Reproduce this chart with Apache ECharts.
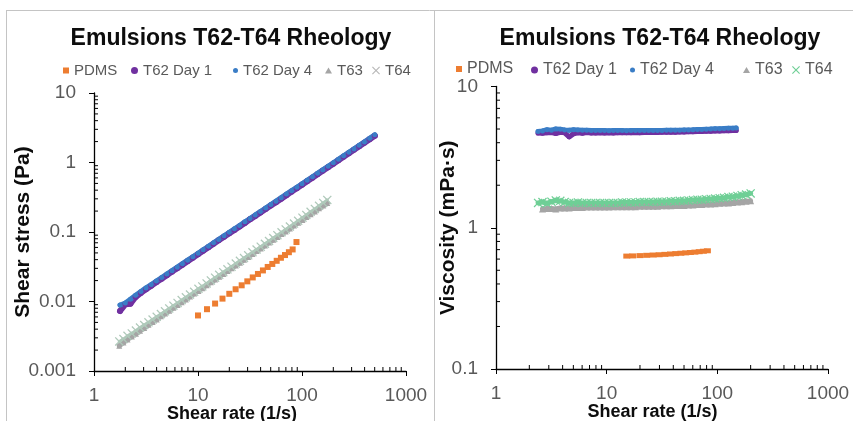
<!DOCTYPE html>
<html><head><meta charset="utf-8">
<script src="https://cdn.jsdelivr.net/npm/echarts@6/dist/echarts.min.js"></script>
<style>html,body{margin:0;padding:0;background:#fff}#c{width:853px;height:421px}</style>
</head><body><div id="c"></div>
<script>
// ---------- data: left chart (shear stress vs shear rate) ----------
const ratePdmsL = [10.0,12.2,14.6,17.2,20.0,23.0,26.3,29.8,33.6,37.7,42.1,46.8,51.8,57.1,62.7,68.6,74.8,81.3,88.5];
const stressPdmsL = [0.0063,0.00775,0.00934,0.0110,0.0129,0.0150,0.0171,0.0195,0.0222,0.0249,0.0280,0.0314,0.0347,0.0385,0.0426,0.0466,0.0512,0.0561,0.0717];
const rateT62L = [1.78,2.00,2.24,2.51,2.82,3.16,3.55,3.98,4.47,5.01,5.62,6.31,7.08,7.94,8.91,10.0,11.2,12.6,14.1,15.8,17.8,20.0,22.4,25.1,28.2,31.6,35.5,39.8,44.7,50.1,56.2,63.1,70.8,79.4,89.1,100,112,126,141,158,178,200,224,251,282,316,355,398,447,501];
const stressDay1L = [0.0073,0.0091,0.0093,0.0116,0.0133,0.0150,0.0169,0.0190,0.0213,0.0239,0.0269,0.0302,0.0339,0.0380,0.0427,0.0479,0.0537,0.0603,0.0676,0.0758,0.0853,0.0958,0.107,0.120,0.135,0.152,0.170,0.191,0.214,0.240,0.269,0.302,0.339,0.381,0.427,0.480,0.538,0.604,0.677,0.759,0.855,0.961,1.08,1.21,1.36,1.52,1.71,1.92,2.16,2.42];
const stressDay4L = [0.0089,0.0095,0.0108,0.0123,0.0139,0.0157,0.0175,0.0197,0.0221,0.0248,0.0278,0.0312,0.0350,0.0393,0.0441,0.0495,0.0555,0.0623,0.0698,0.0782,0.0881,0.0990,0.111,0.124,0.140,0.156,0.176,0.197,0.221,0.248,0.278,0.312,0.351,0.393,0.441,0.495,0.555,0.624,0.698,0.783,0.882,0.991,1.11,1.25,1.40,1.57,1.77,1.98,2.23,2.50];
const rateT6xL = [1.75,1.92,2.10,2.31,2.53,2.77,3.04,3.34,3.66,4.01,4.40,4.82,5.29,5.80,6.36,6.97,7.65,8.38,9.19,10.1,11.0,12.1,13.3,14.6,16.0,17.5,19.2,21.0,23.1,25.3,27.7,30.4,33.4,36.6,40.1,44.0,48.2,52.9,58.0,63.6,69.7,76.5,83.8,91.9,101,110,121,133,146,160,175];
const stressT63L = [0.00231,0.00257,0.00284,0.00314,0.00344,0.00380,0.00417,0.00461,0.00505,0.00553,0.00612,0.00670,0.00735,0.00812,0.00890,0.00976,0.0107,0.0118,0.0130,0.0142,0.0155,0.0171,0.0189,0.0207,0.0227,0.0249,0.0275,0.0300,0.0330,0.0362,0.0399,0.0438,0.0481,0.0531,0.0581,0.0638,0.0704,0.0772,0.0847,0.0935,0.102,0.112,0.124,0.136,0.149,0.164,0.180,0.198,0.219,0.240,0.262];
const stressT64L = [0.00266,0.00288,0.00321,0.00347,0.00382,0.00421,0.00459,0.00501,0.00549,0.00602,0.00660,0.00723,0.00794,0.00870,0.00954,0.0105,0.0115,0.0126,0.0138,0.0152,0.0165,0.0182,0.0201,0.0220,0.0242,0.0264,0.0290,0.0317,0.0351,0.0385,0.0421,0.0462,0.0511,0.0560,0.0614,0.0678,0.0742,0.0820,0.0899,0.0992,0.109,0.120,0.132,0.145,0.161,0.176,0.195,0.215,0.238,0.262,0.289];

// ---------- data: right chart (viscosity vs shear rate) ----------
const ratePdmsR = [15.2,17.2,20.0,23.0,26.3,29.8,33.6,37.7,42.1,46.8,51.8,57.1,62.7,68.6,74.8,81.3];
const viscPdmsR = [0.630,0.632,0.635,0.638,0.641,0.644,0.648,0.652,0.656,0.660,0.664,0.668,0.672,0.677,0.682,0.687];
const rateT62R = [2.40,2.63,2.89,3.17,3.47,3.81,4.17,4.58,5.02,5.50,6.03,6.61,7.25,7.95,8.72,9.56,10.5,11.5,12.6,13.8,15.1,16.6,18.2,19.9,21.9,24.0,26.3,28.8,31.6,34.7,38.0,41.7,45.7,50.1,54.9,60.2,66.1,72.4,79.4,87.1,95.5,105,115,126,138,148];
const viscDay1R = [4.68,4.66,4.70,4.72,4.65,4.74,4.70,4.40,4.62,4.70,4.66,4.72,4.68,4.69,4.70,4.68,4.70,4.69,4.70,4.71,4.70,4.71,4.72,4.71,4.72,4.72,4.73,4.73,4.74,4.74,4.75,4.75,4.76,4.77,4.78,4.79,4.80,4.81,4.82,4.83,4.84,4.85,4.86,4.87,4.88,4.89];
const viscDay4R = [4.80,4.85,4.95,4.90,5.00,4.98,4.92,4.90,4.95,4.93,4.90,4.90,4.88,4.88,4.89,4.88,4.87,4.88,4.88,4.88,4.87,4.88,4.88,4.88,4.88,4.89,4.89,4.89,4.89,4.90,4.90,4.90,4.91,4.92,4.93,4.94,4.96,4.97,4.99,5.00,5.02,5.03,5.05,5.06,5.07,5.08];
const rateT6xR = [2.40,2.63,2.89,3.17,3.47,3.81,4.17,4.58,5.02,5.50,6.03,6.61,7.25,7.95,8.72,9.56,10.5,11.5,12.6,13.8,15.1,16.6,18.2,19.9,21.9,24.0,26.3,28.8,31.6,34.7,38.0,41.7,45.7,50.1,54.9,60.2,66.1,72.4,79.4,87.1,95.5,105,115,126,138,152,166,182,200];
const viscT63R = [null,1.36,1.37,1.37,1.36,1.38,1.38,1.38,1.39,1.39,1.39,1.40,1.40,1.40,1.40,1.40,1.40,1.41,1.41,1.41,1.41,1.41,1.41,1.42,1.42,1.42,1.42,1.42,1.43,1.43,1.43,1.44,1.44,1.44,1.45,1.45,1.46,1.46,1.47,1.47,1.48,1.49,1.50,1.50,1.51,1.52,1.53,1.54,1.55];
const viscT64R = [1.50,1.52,1.49,1.53,1.56,1.55,1.52,1.50,1.50,1.51,1.50,1.50,1.50,1.50,1.50,1.50,1.50,1.50,1.50,1.51,1.51,1.51,1.51,1.52,1.52,1.52,1.52,1.53,1.53,1.53,1.54,1.54,1.55,1.55,1.56,1.57,1.58,1.58,1.59,1.60,1.61,1.62,1.63,1.65,1.66,1.68,1.70,1.72,1.75];

// ---------- axes / ticks ----------
const xRange = [1, 1000];
const yRangeL = [0.001, 10];
const yRangeR = [0.1, 10];
const minorX = [2,3,4,5,6,7,8,9,20,30,40,50,60,70,80,90,200,300,400,500,600,700,800,900];
const minorYL = [0.002,0.003,0.004,0.005,0.006,0.007,0.008,0.009,0.02,0.03,0.04,0.05,0.06,0.07,0.08,0.09,0.2,0.3,0.4,0.5,0.6,0.7,0.8,0.9,2,3,4,5,6,7,8,9];
const minorYR = [0.2,0.3,0.4,0.5,0.6,0.7,0.8,0.9,2,3,4,5,6,7,8,9];

const FONT = 'Liberation Sans, Arial, sans-serif';
const C = {pdms:'#ED7D31', d1:'#7030A0', d4:'#3A7DC6', t63:'#A5A5A5', t64L:'#AFC9BA', t64R:'#6FCF96'};
const CROSS = 'path://M0,1L1,0L5,4L9,0L10,1L6,5L10,9L9,10L5,6L1,10L0,9L4,5Z';

function zip(xs, ys){ const out=[]; for(let i=0;i<xs.length;i++){ if(ys[i]!=null) out.push([xs[i], ys[i]]); } return out; }
const fmt = v => String(+Number(v).toPrecision(3));

function xAxisCfg(grid, padRight){
  return {type:'log', logBase:10, gridIndex:grid, min:xRange[0], max:xRange[1],
    axisLine:{lineStyle:{color:'#000', width:1.3}},
    axisTick:{show:true, length:5, lineStyle:{color:'#000', width:1}},
    axisLabel:{fontFamily:FONT, fontSize:19, color:'#595959', margin:15, formatter:fmt, showMinLabel:true, showMaxLabel:true},
    splitLine:{show:false},
    name:'Shear rate (1/s)', nameLocation:'middle', nameGap:34, nameMoveOverlap:false,
    nameTextStyle:{fontFamily:FONT, fontSize:18, fontWeight:'bold', color:'#0D0D0D', padding:[0,padRight,0,0]}};
}
function yAxisCfg(grid, range, name, gap){
  return {type:'log', logBase:10, gridIndex:grid, min:range[0], max:range[1],
    axisLine:{show:true, lineStyle:{color:'#000', width:1.3}},
    axisTick:{show:true, length:5, lineStyle:{color:'#000', width:1}},
    axisLabel:{fontFamily:FONT, fontSize:19, color:'#595959', margin:18, formatter:fmt, showMinLabel:true, showMaxLabel:true},
    splitLine:{show:false},
    name:name, nameLocation:'middle', nameGap:gap, nameMoveOverlap:false,
    nameTextStyle:{fontFamily:FONT, fontSize:21, fontWeight:'bold', color:'#0D0D0D'}};
}
function minorXSeries(idx, yMin){
  return {type:'custom', xAxisIndex:idx, yAxisIndex:idx, silent:true, z:5,
    data: minorX.map(v=>[v, yMin]),
    renderItem:(p, api)=>{ const c = api.coord([api.value(0), api.value(1)]);
      return {type:'line', shape:{x1:c[0], y1:c[1], x2:c[0], y2:c[1]-4}, style:{stroke:'#000', lineWidth:1}}; }};
}
function minorYSeries(idx, vals, xMin){
  return {type:'custom', xAxisIndex:idx, yAxisIndex:idx, silent:true, z:5,
    data: vals.map(v=>[xMin, v]),
    renderItem:(p, api)=>{ const c = api.coord([api.value(0), api.value(1)]);
      return {type:'line', shape:{x1:c[0], y1:c[1], x2:c[0]+4, y2:c[1]}, style:{stroke:'#000', lineWidth:1}}; }};
}
function sc(name, idx, data, symbol, size, color){
  return {type:'scatter', name, xAxisIndex:idx, yAxisIndex:idx, data, symbol, symbolSize:size,
    itemStyle:{color, opacity:1}, emphasis:{disabled:true}, silent:true};
}
function ln(name, idx, data, symbol, size, color, width, lineColor){
  return {type:'line', name, xAxisIndex:idx, yAxisIndex:idx, data, symbol, symbolSize:size, showSymbol:true,
    lineStyle:{color: lineColor || color, width, cap:'round', join:'round'}, itemStyle:{color, opacity:1},
    emphasis:{disabled:true}, silent:true, animation:false};
}
function lg(left, top, name, icon, w, h, color, fs){
  return {left, top, padding:0, itemWidth:w, itemHeight:h, itemGap:0, selectedMode:false,
    data:[{name, icon, itemStyle:{color}}],
    textStyle:{fontFamily:FONT, fontSize:fs, color:'#595959'}};
}

const chart = echarts.init(document.getElementById('c'), null, {renderer:'canvas'});
chart.setOption({
  animation:false,
  backgroundColor:'#fff',
  title:[
    {text:'Emulsions T62-T64 Rheology', left:226, top:22, textAlign:'center',
     textStyle:{fontFamily:FONT, fontSize:23, fontWeight:'bold', color:'#0D0D0D'}},
    {text:'Emulsions T62-T64 Rheology', left:655, top:22, textAlign:'center',
     textStyle:{fontFamily:FONT, fontSize:23, fontWeight:'bold', color:'#0D0D0D'}}
  ],
  legend:[
    lg(63, 63, 'PDMS', 'rect', 6, 6, C.pdms, 15),
    lg(131, 63, 'T62 Day 1', 'circle', 7, 7, C.d1, 15),
    lg(233, 63, 'T62 Day 4', 'circle', 5, 5, C.d4, 15),
    lg(325, 63, 'T63', 'triangle', 7, 6, C.t63, 15),
    lg(372, 63, 'T64', CROSS, 8, 8, '#B8B8B8', 15),
    lg(456, 61, 'PDMS', 'rect', 6, 6, C.pdms, 16),
    lg(531, 62, 'T62 Day 1', 'circle', 7, 7, C.d1, 16),
    lg(630, 62, 'T62 Day 4', 'circle', 5, 5, C.d4, 16),
    lg(743, 62, 'T63', 'triangle', 7, 6, C.t63, 16),
    lg(792, 62, 'T64', CROSS, 8, 8, C.t64R, 16)
  ],
  grid:[
    {left:94, top:93, width:312, height:278, outerBoundsMode:'none', containLabel:false},
    {left:496, top:86.5, width:332, height:282.5, outerBoundsMode:'none', containLabel:false}
  ],
  xAxis:[ xAxisCfg(0, 36), xAxisCfg(1, 19) ],
  yAxis:[ yAxisCfg(0, yRangeL, 'Shear stress (Pa)', 60), yAxisCfg(1, yRangeR, 'Viscosity (mPa·s)', 37) ],
  graphic:[
    {type:'line', shape:{x1:6, y1:10.5, x2:853, y2:10.5}, style:{stroke:'#C4C4C4', lineWidth:1}, silent:true},
    {type:'line', shape:{x1:6.5, y1:10, x2:6.5, y2:421}, style:{stroke:'#C4C4C4', lineWidth:1}, silent:true},
    {type:'line', shape:{x1:434.5, y1:10, x2:434.5, y2:421}, style:{stroke:'#C4C4C4', lineWidth:1}, silent:true}
  ],
  series:[
    sc('PDMS', 0, zip(ratePdmsL, stressPdmsL), 'rect', 6, C.pdms),
    ln('T62 Day 1', 0, zip(rateT62L, stressDay1L), 'circle', 6, C.d1, 6),
    ln('T62 Day 4', 0, zip(rateT62L, stressDay4L), 'circle', 5, C.d4, 5),
    ln('T63', 0, zip(rateT6xL, stressT63L), 'triangle', 6, C.t63, 5),
    ln('T64', 0, zip(rateT6xL, stressT64L), CROSS, 9, C.t64L, 3),
    sc('PDMS', 1, zip(ratePdmsR, viscPdmsR), 'rect', [7,5], C.pdms),
    ln('T62 Day 1', 1, zip(rateT62R, viscDay1R), 'circle', 5, C.d1, 5),
    ln('T62 Day 4', 1, zip(rateT62R, viscDay4R), 'circle', 5, C.d4, 5),
    ln('T63', 1, zip(rateT6xR, viscT63R), 'triangle', 7, C.t63, 5),
    ln('T64', 1, zip(rateT6xR, viscT64R), CROSS, 9, C.t64R, 5),
    minorXSeries(0, yRangeL[0]), minorYSeries(0, minorYL, xRange[0]),
    minorXSeries(1, yRangeR[0]), minorYSeries(1, minorYR, xRange[0])
  ]
});
</script>
</body></html>
